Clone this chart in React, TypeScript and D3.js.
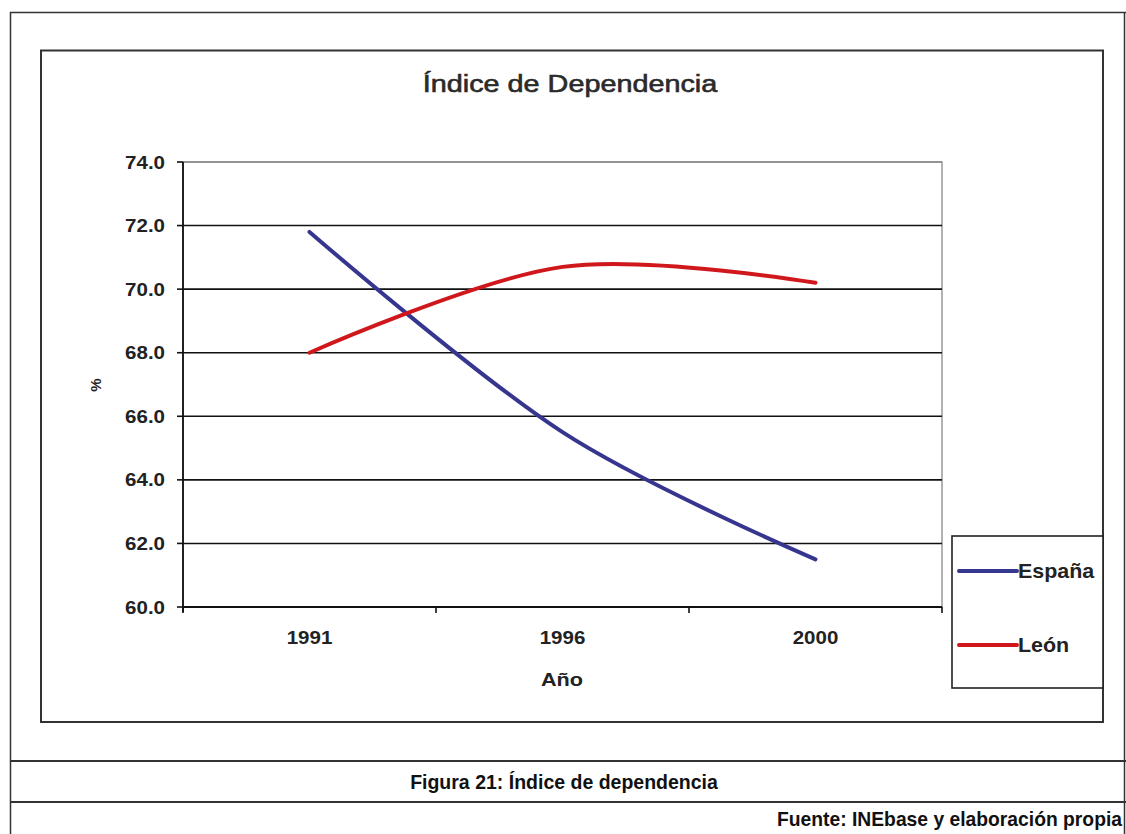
import React from "react";
import * as d3 from "d3";

const years = ["1991", "1996", "2000"];
const espana = [71.8, 65.5, 61.5];
const leon = [68.0, 70.7, 70.2];
const yTicks = [60, 62, 64, 66, 68, 70, 72, 74];
const seriesNames = ["España", "León"];
const seriesColors = ["#36368f", "#d0181c"];

const FONT = "'Liberation Sans', Arial, Helvetica, sans-serif";
const SX = 1.14;

function SText(props: any) {
  const { x, y, sx = SX, anchor = "middle", size = 18, weight = "bold", fill = "#222", rotate = 0, stroke = "none", strokeWidth = 0, children } = props;
  const t = rotate ? `translate(${x},${y}) rotate(${rotate}) scale(${sx},1)` : `translate(${x},${y}) scale(${sx},1)`;
  return (
    <text transform={t} textAnchor={anchor} fontFamily={FONT} fontSize={size} fontWeight={weight} fill={fill} stroke={stroke} strokeWidth={strokeWidth}>
      {children}
    </text>
  );
}

export default function App() {
  const W = 1126, H = 834;
  const plot = { left: 183, right: 942, top: 162, bottom: 607 };
  const x = d3.scaleBand<string>().domain(years).range([plot.left, plot.right]).padding(0);
  const y = d3.scaleLinear().domain([60, 74]).range([plot.bottom, plot.top]);
  const cx = (c: string) => (x(c) as number) + x.bandwidth() / 2;
  const line = d3
    .line<number>()
    .x((_, i) => cx(years[i]))
    .y((v) => y(v))
    .curve(d3.curveCardinal.tension(0));
  const series = [espana, leon];
  const xTickPos = [...years.map((c) => x(c) as number), plot.right];

  const legend = { left: 952, top: 536, right: 1103, bottom: 688 };
  const legendRows = [571, 645];

  return (
    <svg width={W} height={H} style={{ position: "absolute", left: 0, top: 0, background: "#fff" }}>
      <rect x={0} y={0} width={W} height={H} fill="#fff" />
      {/* outer frame */}
      <line x1={10.5} y1={12} x2={10.5} y2={H} stroke="#333" strokeWidth={1.5} />
      <line x1={10} y1={12.5} x2={W} y2={12.5} stroke="#333" strokeWidth={1.5} />
      <line x1={1124.5} y1={12} x2={1124.5} y2={H} stroke="#333" strokeWidth={1.5} />
      <line x1={10} y1={761} x2={W} y2={761} stroke="#333" strokeWidth={2} />
      <line x1={10} y1={802} x2={W} y2={802} stroke="#333" strokeWidth={2} />
      <text x={564} y={789} textAnchor="middle" fontFamily={FONT} fontSize={19.5} fontWeight="bold" fill="#111">
        Figura 21: Índice de dependencia
      </text>
      <text x={1122} y={826} textAnchor="end" fontFamily={FONT} fontSize={19.3} fontWeight="bold" fill="#111">
        Fuente: INEbase y elaboración propia
      </text>

      {/* chart box */}
      <rect x={41} y={50.5} width={1062} height={671.5} fill="#fff" stroke="#333" strokeWidth={2} />
      <SText x={570} y={92} size={24} sx={1.2} weight="normal" fill="#2a2a2a" stroke="#2a2a2a" strokeWidth={0.6}>Índice de Dependencia</SText>

      {/* plot area border */}
      <rect x={plot.left} y={plot.top} width={plot.right - plot.left} height={plot.bottom - plot.top} fill="none" stroke="#999" strokeWidth={1.5} />
      {/* gridlines */}
      {yTicks.map((t) => (
        <line key={"g" + t} x1={plot.left} x2={plot.right} y1={y(t)} y2={y(t)} stroke={t === 74 ? "#888" : "#111"} strokeWidth={1.6} />
      ))}
      {/* y axis */}
      <line x1={plot.left} x2={plot.left} y1={plot.top} y2={plot.bottom + 5} stroke="#111" strokeWidth={1.8} />
      {yTicks.map((t) => (
        <g key={"yt" + t}>
          <line x1={plot.left - 6} x2={plot.left} y1={y(t)} y2={y(t)} stroke="#111" strokeWidth={1.6} />
          <SText x={165} y={y(t) + 6.5} anchor="end" size={18}>{t.toFixed(1)}</SText>
        </g>
      ))}
      {/* x axis */}
      <line x1={plot.left} x2={plot.right} y1={plot.bottom} y2={plot.bottom} stroke="#111" strokeWidth={1.8} />
      {xTickPos.map((p, i) => (
        <line key={"xt" + i} x1={p} x2={p} y1={plot.bottom} y2={plot.bottom + 6} stroke="#111" strokeWidth={1.6} />
      ))}
      {years.map((c) => (
        <SText key={"xl" + c} x={cx(c)} y={644} size={18}>{c}</SText>
      ))}
      <SText x={562} y={686} size={19}>Año</SText>
      <SText x={101} y={385} size={15} sx={1} rotate={-90}>%</SText>

      {/* series */}
      {series.map((s, i) => (
        <path key={"s" + i} d={line(s) as string} fill="none" stroke={seriesColors[i]} strokeWidth={4} strokeLinejoin="round" strokeLinecap="round" />
      ))}

      {/* legend */}
      <rect x={legend.left} y={legend.top} width={legend.right - legend.left} height={legend.bottom - legend.top} fill="#fff" stroke="#222" strokeWidth={1.6} />
      {seriesNames.map((n, i) => (
        <g key={"lg" + i}>
          <line x1={959} x2={1017} y1={legendRows[i]} y2={legendRows[i]} stroke={seriesColors[i]} strokeWidth={4} strokeLinecap="round" />
          <SText x={1018} y={legendRows[i] + 7} anchor="start" size={19.5} sx={1.1}>{n}</SText>
        </g>
      ))}
    </svg>
  );
}
